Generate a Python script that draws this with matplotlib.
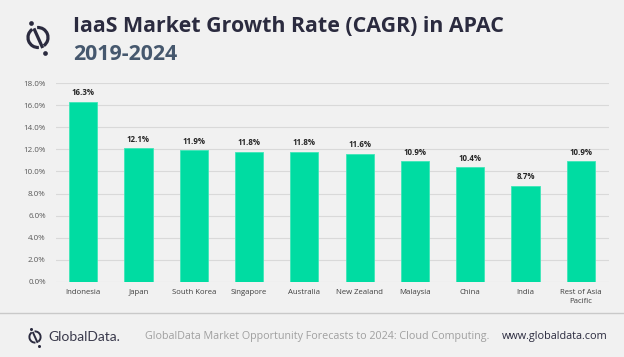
import matplotlib.pyplot as plt
import matplotlib.patches as mpatches
import numpy as np

# --- date ---
tari = ['Indonesia', 'Japan', 'South Korea', 'Singapore', 'Australia',
        'New Zealand', 'Malaysia', 'China', 'India', 'Rest of Asia\nPacific']
cagr = [16.3, 12.1, 11.9, 11.8, 11.8, 11.6, 10.9, 10.4, 8.7, 10.9]
y_ticks = [0, 2, 4, 6, 8, 10, 12, 14, 16, 18]

W, H = 624, 357
bg = '#f1f1f1'
bar_color = '#00dca2'
navy = '#2b2b3f'

fig = plt.figure(figsize=(W / 100, H / 100), dpi=100)
fig.patch.set_facecolor(bg)
plt.rcParams['font.family'] = ['Open Sans', 'DejaVu Sans']

# --- axa graficului (pozitii in pixeli) ---
left, right, top, bottom = 55.5, 608.5, 83, 282
ax = fig.add_axes([left / W, 1 - bottom / H, (right - left) / W, (bottom - top) / H])
ax.set_facecolor(bg)
x = np.arange(len(tari))
ax.bar(x, cagr, width=0.51, color=bar_color, edgecolor='#3ee6b8', linewidth=0.6, zorder=3)
for i, v in enumerate(cagr):
    ax.text(x[i], v + 0.4, f'{v:.1f}%', ha='center', va='bottom',
            fontsize=5.7, fontweight='bold', color='#262626')

ax.set_xlim(-0.5, len(tari) - 0.5)
ax.set_ylim(0, 18)
ax.set_yticks(y_ticks)
ax.set_yticklabels([f'{t:.1f}%' for t in y_ticks], fontsize=5.8, color='#595959')
ax.set_xticks(x)
ax.set_xticklabels(tari, fontsize=5.6, color='#404040', linespacing=1.5)
ax.tick_params(length=0, pad=7)
ax.tick_params(axis='x', pad=5)
ax.grid(axis='y', color='#d9d9d9', linewidth=0.8, zorder=0)
for s in ax.spines.values():
    s.set_visible(False)

# --- titlu ---
fig.text(73 / W, 1 - 26 / H, 'IaaS Market Growth Rate (CAGR) in APAC', fontsize=15.4,
         fontweight='bold', color=navy, va='center', ha='left')
fig.text(73 / W, 1 - 54 / H, '2019-2024', fontsize=15.4, fontweight='bold',
         color='#46586e', va='center', ha='left')

# axa pentru desene in pixeli (y in jos)
ax_l = fig.add_axes([0, 0, 1, 1], facecolor='none')
ax_l.set_xlim(0, W)
ax_l.set_ylim(H, 0)
ax_l.axis('off')


def logo(cx, cy, r, lw, ms):
    # cerc taiat, linie oblica si doua puncte
    ax_l.add_patch(mpatches.Arc((cx, cy), 2 * r, 2 * r, theta1=85, theta2=235,
                                color=navy, lw=lw))
    ax_l.add_patch(mpatches.Arc((cx, cy), 2 * r, 2 * r, theta1=265, theta2=415,
                                color=navy, lw=lw))
    dx, dy = 0.41, 0.91
    ax_l.plot([cx - 1.0 * dx * r, cx + 1.15 * dx * r], [cy - 1.0 * dy * r, cy + 1.15 * dy * r],
              color=navy, lw=lw, solid_capstyle='butt')
    ax_l.plot([cx - 1.6 * dx * r, cx + 1.7 * dx * r], [cy - 1.6 * dy * r, cy + 1.7 * dy * r],
              'o', color=navy, ms=ms, mec='none')


logo(38, 37.5, 10, 2.3, 3.4)

# --- subsol ---
ax_l.plot([0, W], [313, 313], color='#c9c9c9', lw=1)
logo(35, 337, 5.6, 1.4, 2.2)
fig.text(48 / W, 1 - 337 / H, 'GlobalData.', fontsize=10, color='#3a3a4c',
         va='center', ha='left', family='Lato')
fig.text(145 / W, 1 - 337 / H,
         'GlobalData Market Opportunity Forecasts to 2024: Cloud Computing.',
         fontsize=7.75, color='#a0a0a0', va='center', ha='left')
fig.text(608 / W, 1 - 337 / H, 'www.globaldata.com', fontsize=7.8, color='#2b2b3f',
         va='center', ha='right')

plt.savefig('out.png', dpi=100, facecolor=bg)
